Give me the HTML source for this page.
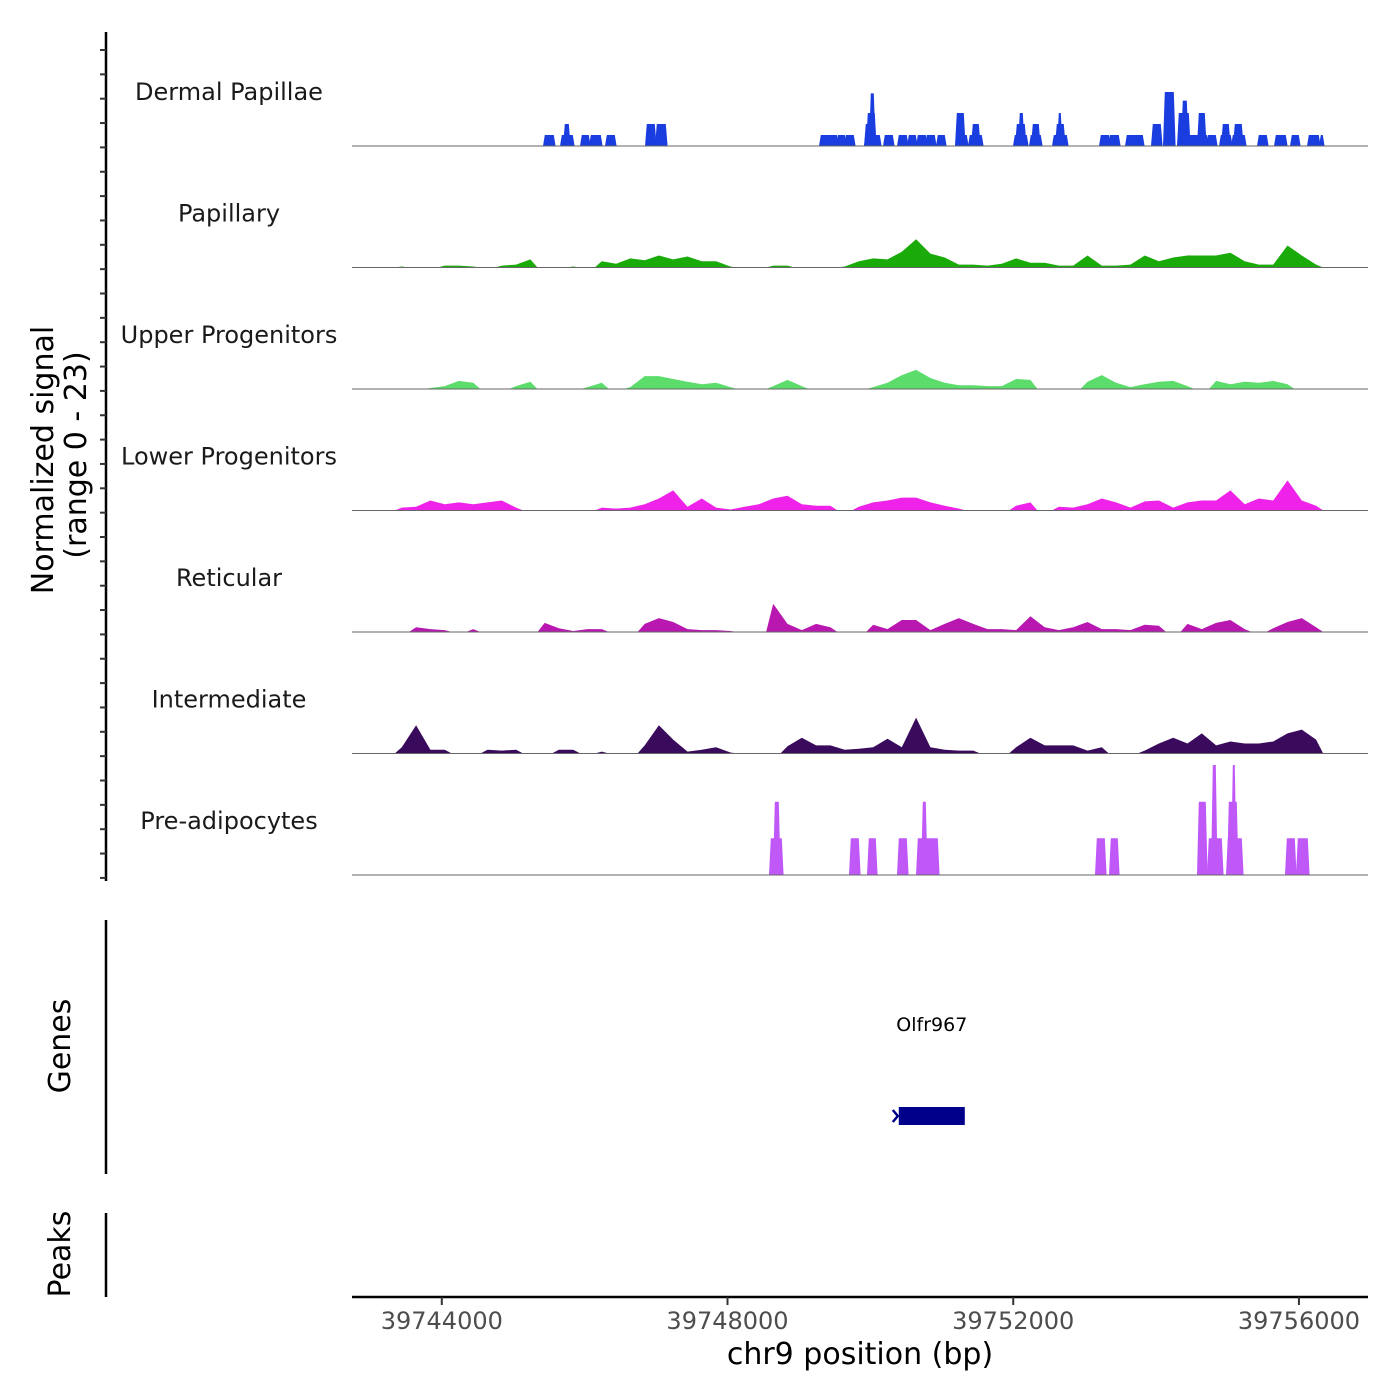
<!DOCTYPE html>
<html><head><meta charset="utf-8"><style>
html,body{margin:0;padding:0;background:#fff;}
svg{display:block;font-family:"DejaVu Sans","Liberation Sans",sans-serif;}
</style></head><body>
<svg id="chart" width="1400" height="1400" viewBox="0 0 1400 1400" xmlns="http://www.w3.org/2000/svg">
<g id="leftaxes"></g>
<g id="tracks"></g>
<g id="genes"></g>
<g id="xaxis"></g>
<text transform="translate(53,460) rotate(-90)" text-anchor="middle" font-size="30" fill="#000">Normalized signal</text>
<text transform="translate(86,455) rotate(-90)" text-anchor="middle" font-size="30" fill="#000">(range 0 - 23)</text>
<text transform="translate(70,1046) rotate(-90)" text-anchor="middle" font-size="30" fill="#000">Genes</text>
<text transform="translate(70,1254) rotate(-90)" text-anchor="middle" font-size="30" fill="#000">Peaks</text>
</svg>
<script>
const trackNames = ["Dermal Papillae","Papillary","Upper Progenitors","Lower Progenitors","Reticular","Intermediate","Pre-adipocytes"];
const trackColors = ["#1a3de0","#1aaa0a","#5cdc6a","#ee22e8","#b818b0","#3a0a5c","#c058f8"];
const binStart = 39742740;
const binWidth = 200;
const papillaryBins = [0,0,0,0.2,0,0,0.4,0.4,0.2,0,0.4,0.6,1.7,0,0,0.2,0,1.3,0.8,1.9,1.5,2.5,1.7,2.3,1.3,1.3,0.2,0,0,0.4,0.4,0,0,0,0.2,1.3,1.9,1.7,3.3,5.9,2.9,2.1,0.6,0.6,0.4,0.8,1.9,1.0,1.0,0.4,0.4,2.5,0.4,0.4,0.6,2.5,1.3,2.1,2.5,2.5,2.5,3.1,1.3,0.6,0.6,4.6,2.5,0.6,0,0,0];
const upperBins = [0,0,0,0,0,0.2,0.6,1.7,1.3,0,0,0.6,1.5,0,0,0,0.4,1.3,0,0.4,2.7,2.7,2.1,1.5,1.0,1.3,0.4,0,0,0.6,1.9,0.6,0,0,0,0,0.4,1.3,2.9,4.0,2.3,1.3,0.8,0.8,0.6,0.6,2.1,1.9,0,0,0,1.5,2.9,1.3,0.4,1.0,1.5,1.7,0.6,0,1.7,1.0,1.5,1.3,1.7,1.0,0,0,0,0,0];
const lowerBins = [0,0,0,0.6,0.8,2.1,1.3,1.7,1.3,1.7,2.1,0.6,0,0,0,0,0,0.6,0.4,0.6,1.3,2.5,4.2,0.8,2.5,0.6,0.2,0.8,1.3,2.5,3.1,1.3,1.0,1.0,0,0.8,1.7,2.1,2.7,2.7,1.7,1.0,0.4,0,0,0,1.0,1.7,0,0.8,0.6,1.3,2.5,1.7,0.6,1.9,2.1,0.6,1.7,2.1,2.1,4.2,1.3,2.5,2.1,6.3,2.1,1.0,0,0,0];
const reticularBins = [0,0,0,0,1.0,0.6,0.4,0,0.6,0,0,0,0,1.9,0.8,0.2,0.6,0.6,0,0,1.7,2.9,2.1,0.6,0.4,0.4,0.2,0,0,5.9,1.7,0.4,1.7,1.0,0,0,1.5,0.6,2.5,2.5,0.4,1.7,2.9,1.7,0.6,0.6,0.4,3.3,1.0,0.4,1.0,2.1,0.6,0.6,0.4,1.5,1.3,0,1.7,0.6,1.9,2.5,0.6,0,0.8,2.1,2.9,1.0,0,0,0];
const intermediateBins = [0,0,0,1.3,5.9,0.8,0.8,0,0,0.8,0.6,0.8,0,0,0.8,0.8,0,0.4,0,0,1.7,5.9,2.9,0.4,0.8,1.3,0.2,0,0,0,1.5,3.3,1.7,1.7,0.8,1.0,1.3,3.1,1.3,7.5,1.3,0.8,0.6,0.6,0,0,1.3,3.3,1.7,1.7,1.7,0.6,1.3,0,0,0.6,2.1,3.3,2.1,4.2,1.7,2.5,2.1,2.1,2.5,4.2,5.0,2.9,0,0,0];
// segments: [startBp, endBp, value]
const dermalSegments = [
[39745442,39745568,2.3],[39745680,39745834,2.3],[39745722,39745778,4.6],[39745960,39746058,2.3],[39746086,39746226,2.3],[39746310,39746422,2.3],
[39746870,39746982,4.6],[39747010,39747136,4.6],[39749306,39749530,2.3],[39749544,39749642,2.3],[39749656,39749768,2.3],
[39749936,39750132,2.3],[39749936,39750062,4.6],[39749964,39750062,6.9],[39750006,39750048,11],
[39750202,39750314,2.3],[39750398,39750510,2.3],[39750538,39750636,2.3],[39750664,39750776,2.3],[39750790,39750902,2.3],[39750944,39751042,2.3],
[39751210,39751350,2.3],[39751210,39751308,6.9],[39751392,39751560,2.3],[39751434,39751518,4.6],
[39752022,39752190,2.3],[39752050,39752162,4.6],[39752092,39752134,6.9],[39752246,39752386,2.3],[39752274,39752358,4.6],
[39752568,39752750,2.3],[39752610,39752708,4.6],[39752638,39752666,6.9],[39753226,39753338,2.3],[39753352,39753478,2.3],[39753590,39753814,2.3],
[39753954,39754066,4.6],[39754122,39754248,11.3],[39754318,39754710,2.3],[39754318,39754458,6.9],[39754374,39754430,9.5],[39754598,39754682,6.9],
[39754724,39754836,2.3],[39754906,39755046,2.3],[39754934,39755018,4.6],[39755074,39755242,2.3],[39755102,39755200,4.6],
[39755438,39755550,2.3],[39755676,39755816,2.3],[39755900,39755998,2.3],[39756138,39756278,2.3],[39756306,39756334,2.3]];
const preadipocyteSegments = [
[39748606,39748760,7.7],[39748662,39748718,15.3],[39749726,39749838,7.7],[39749978,39750076,7.7],[39750398,39750510,7.7],
[39750664,39750944,7.7],[39750734,39750776,15.3],[39753170,39753282,7.7],[39753366,39753464,7.7],
[39754598,39754696,15.3],[39754738,39754920,7.7],[39754794,39754836,23],
[39755004,39755200,7.7],[39755018,39755130,15.3],[39755074,39755102,23],
[39755830,39755942,7.7],[39755984,39756124,7.7]];
const geneName = "Olfr967";
const geneStart = 39750398;
const geneEnd = 39751322;
const xTicks = [39744000,39748000,39752000,39756000];
const xTickLabels = ["39744000","39748000","39752000","39756000"];

const NS="http://www.w3.org/2000/svg";
const X0=352, X1=1368;
function xScale(bp){ return 441.8 + (bp-39744000)*0.0714286; }
const unitPx = 110/23;
function baseY(i){ return 146 + 121.5*i; }
function yScale(i,v){ return baseY(i) - v*unitPx; }
function mk(tag,attrs,parent){ const e=document.createElementNS(NS,tag); for(const k in attrs) e.setAttribute(k,attrs[k]); parent.appendChild(e); return e; }

const tracks=document.getElementById('tracks');
const binData=[null,papillaryBins,upperBins,lowerBins,reticularBins,intermediateBins,null];
const segData=[dermalSegments,null,null,null,null,null,preadipocyteSegments];
const slugs=["dermal-papillae","papillary","upper-progenitors","lower-progenitors","reticular","intermediate","pre-adipocytes"];
trackNames.forEach((name,i)=>{
  const g=mk('g',{},tracks);
  
  
  const lab=mk('text',{x:229,y:baseY(i)-46,'text-anchor':'middle','font-size':24,fill:'#1a1a1a'},g);
  lab.textContent=name;
  
  
  if(binData[i]){
    const b=binData[i];
    let d='';
    let k=0;
    while(k<b.length){
      if(b[k]>0){
        let s=k; while(k<b.length && b[k]>0) k++;
        const xl=xScale(binStart+binWidth*s), xr=xScale(binStart+binWidth*k);
        d+='M'+xl.toFixed(1)+','+baseY(i);
        for(let j=s;j<k;j++){ d+=' L'+xScale(binStart+binWidth*(j+0.5)).toFixed(1)+','+yScale(i,b[j]).toFixed(1); }
        d+=' L'+xr.toFixed(1)+','+baseY(i)+' Z ';
      } else k++;
    }
    const p=mk('path',{d:d,fill:trackColors[i]},g);
    
    
  }
  if(segData[i]){
    segData[i].forEach(sg=>{
      const xa=xScale(sg[0]), xb=xScale(sg[1]), yt=yScale(i,sg[2]), yb=baseY(i);
      const sl=1.8;
      const pts=[[xa-sl,yb],[xa,yt],[xb,yt],[xb+sl,yb]].map(p=>p[0].toFixed(1)+','+p[1].toFixed(1)).join(' ');
      const pg=mk('polygon',{points:pts,fill:trackColors[i]},g);
      
      
    });
  }
  const bl=mk('line',{x1:X0,x2:X1,y1:baseY(i),y2:baseY(i),stroke:'#666',  'stroke-width':1},g);
  
  
});

// left axes
const la=document.getElementById('leftaxes');
const l1=mk('line',{x1:106,x2:106,y1:32,y2:881,stroke:'#000','stroke-width':2.5},la);


for(let t=0;t<=34;t++){
  const y=50+24.35*t;
  const tk=mk('line',{x1:100,x2:106,y1:y,y2:y,stroke:'#333','stroke-width':2},la);
  
  
}
const l2=mk('line',{x1:106,x2:106,y1:920,y2:1174,stroke:'#000','stroke-width':2.5},la);


const l3=mk('line',{x1:106,x2:106,y1:1213,y2:1297,stroke:'#000','stroke-width':2.5},la);



// gene
const gg=document.getElementById('genes');
const gx1=xScale(geneStart), gx2=xScale(geneEnd);
const gr=mk('rect',{x:gx1,y:1107,width:gx2-gx1,height:18,fill:'#00008b'},gg);


const ga=mk('path',{d:'M'+(gx1-6)+',1110 L'+(gx1-1)+',1116 L'+(gx1-6)+',1122',stroke:'#00008b','stroke-width':2.5,fill:'none'},gg);


const gt=mk('text',{x:(gx1+gx2)/2,y:1031,'text-anchor':'middle','font-size':19,fill:'#000'},gg);
gt.textContent=geneName;



// x axis
const xa=document.getElementById('xaxis');
const al=mk('line',{x1:X0,x2:X1,y1:1297,y2:1297,stroke:'#000','stroke-width':2.5},xa);


xTicks.forEach((t,i)=>{
  const x=xScale(t);
  const tl=mk('line',{x1:x,x2:x,y1:1297,y2:1305,stroke:'#333','stroke-width':2},xa);
  
  
  const tx=mk('text',{x:x,y:1329,'text-anchor':'middle','font-size':24,fill:'#4d4d4d'},xa);
  tx.textContent=xTickLabels[i];
  
  
});
const xt=mk('text',{x:860,y:1364,'text-anchor':'middle','font-size':30,fill:'#000'},xa);
xt.textContent='chr9 position (bp)';


</script>
</body></html>
